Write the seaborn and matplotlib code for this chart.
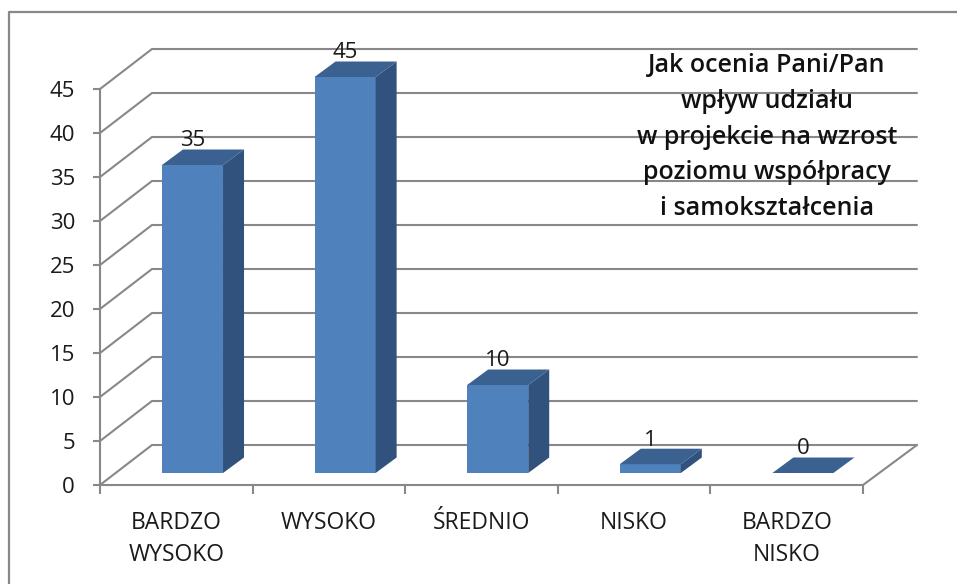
import pandas as pd
import matplotlib.pyplot as plt
import seaborn as sns
from matplotlib.lines import Line2D
from matplotlib.patches import Polygon

categories = ['BARDZO\nWYSOKO', 'WYSOKO', 'ŚREDNIO', 'NISKO', 'BARDZO\nNISKO']
values = [35, 45, 10, 1, 0]
y_ticks = [0, 5, 10, 15, 20, 25, 30, 35, 40, 45]
title = 'Jak ocenia Pani/Pan\nwpływ udziału\nw projekcie na wzrost\npoziomu współpracy\ni samokształcenia'

W, H = 957, 584
gray = '#888888'
front = '#4F81BD'
top_col = '#3A618F'
side_col = '#31527C'

sns.set_style('white')
plt.rcParams['font.family'] = ['Open Sans', 'DejaVu Sans']

data = pd.DataFrame({'cat': categories, 'val': values})

fig = plt.figure(figsize=(W / 100, H / 100), dpi=100)

# plot box in pixels, front plane of the fake 3d
left, right, bot, top = 100, 863, 485, 89
rect = [left / W, 1 - bot / H, (right - left) / W, (bot - top) / H]
ax = fig.add_axes(rect)
ax.set_xlim(-0.5, 4.5)
ax.set_ylim(0, 45)

px_x = 5 / (right - left)
px_y = 45 / (bot - top)

# walls
wall_dx, wall_dy = 52 * px_x, 40 * px_y
for t in y_ticks:
    ax.plot([-0.5, -0.5 + wall_dx, 4.5 + 54 * px_x], [t, t + wall_dy, t + wall_dy],
            color=gray, lw=1.5, clip_on=False, solid_joinstyle='miter')
ax.plot([4.5, 4.5 + 54 * px_x], [0, wall_dy], color=gray, lw=1.5, clip_on=False)

ax.set_yticks(y_ticks)
ax.set_xticks([0, 1, 2, 3, 4])
ax.set_xticklabels(categories, linespacing=1.46)
ax.set_xticks([-0.5, 0.5, 1.5, 2.5, 3.5, 4.5], minor=True)
ax.tick_params(axis='y', length=5, width=1.5, color=gray, pad=13, labelsize=16,
               labelcolor='#1a1a1a', left=True)
ax.tick_params(axis='x', which='major', length=0, pad=18.5, labelsize=16.5, labelcolor='#1a1a1a')
ax.tick_params(axis='x', which='minor', length=6.5, width=1.5, color=gray, bottom=True)
ax.grid(False)
sns.despine(ax=ax)
for s in ['left', 'bottom']:
    ax.spines[s].set_color(gray)
    ax.spines[s].set_linewidth(1.5)

# bars sit a little behind the front plane
shift_x, shift_y = 16.2, 12
bar_ax = fig.add_axes([(left + shift_x) / W, 1 - (bot - shift_y) / H, (right - left) / W, (bot - top) / H])
sns.barplot(data=data, x='cat', y='val', color=front, saturation=1, width=0.4, linewidth=0, ax=bar_ax)
bar_ax.set_xlim(-0.5, 4.5)
bar_ax.set_ylim(0, 45)
bar_ax.axis('off')

dx, dy = 21 * px_x, 15.5 * px_y
for i, v in enumerate(values):
    x0, x1 = i - 0.2, i + 0.2
    bar_ax.add_patch(Polygon([(x1, 0), (x1 + dx, dy), (x1 + dx, v + dy), (x1, v)],
                             facecolor=side_col, edgecolor='none', clip_on=False, zorder=3))
    bar_ax.add_patch(Polygon([(x0, v), (x0 + dx, v + dy), (x1 + dx, v + dy), (x1, v)],
                             facecolor=top_col, edgecolor='none', clip_on=False, zorder=3))
    bar_ax.text(i, v + 24 * px_y, str(v), ha='center', va='center', fontsize=16,
                color='#1a1a1a', clip_on=False, zorder=4)

# title sits over the grid
fig.text(767 / W, 1 - 137 / H, title, ha='center', va='center', fontsize=18,
         fontweight='semibold', color='#111111', linespacing=1.56, zorder=5)

# chart frame, cut off by the screenshot on the right and bottom
fig.add_artist(Line2D([9 / W, 9 / W, 1], [0, 1 - 12 / H, 1 - 12 / H], color=gray, lw=1.6))

plt.savefig('out.png', dpi=100)
